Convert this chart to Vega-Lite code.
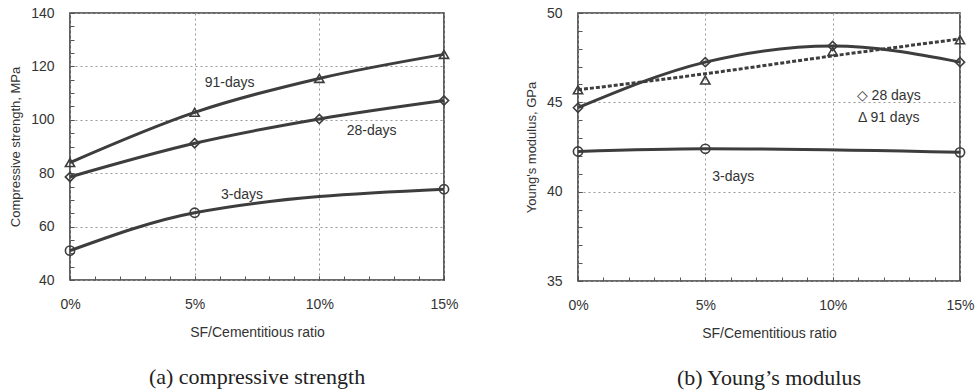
{
  "$schema": "https://vega.github.io/schema/vega-lite/v6.json",
  "background": "white",
  "padding": {"left": 8, "top": 5, "right": 5, "bottom": 0},
  "spacing": 65,
  "datasets": {
    "left": [
      {"series": "91-days", "ratio": 0, "value": 84.0},
      {"series": "91-days", "ratio": 5, "value": 102.8},
      {"series": "91-days", "ratio": 10, "value": 115.5},
      {"series": "91-days", "ratio": 15, "value": 124.5},
      {"series": "28-days", "ratio": 0, "value": 78.6},
      {"series": "28-days", "ratio": 5, "value": 91.2},
      {"series": "28-days", "ratio": 10, "value": 100.3},
      {"series": "28-days", "ratio": 15, "value": 107.2},
      {"series": "3-days", "ratio": 0, "value": 51.0},
      {"series": "3-days", "ratio": 5, "value": 65.2},
      {"series": "3-days", "ratio": 15, "value": 74.0}
    ],
    "leftLabels": [
      {"label": "91-days", "ratio": 6.4, "value": 113.8},
      {"label": "28-days", "ratio": 12.1, "value": 95.8},
      {"label": "3-days", "ratio": 6.9, "value": 71.8}
    ],
    "right": [
      {"series": "28-days", "ratio": 0, "value": 44.7},
      {"series": "28-days", "ratio": 5, "value": 47.25},
      {"series": "28-days", "ratio": 10, "value": 48.15},
      {"series": "28-days", "ratio": 15, "value": 47.25},
      {"series": "91-days", "ratio": 0, "value": 45.7},
      {"series": "91-days", "ratio": 5, "value": 46.25},
      {"series": "91-days", "ratio": 10, "value": 47.85},
      {"series": "91-days", "ratio": 15, "value": 48.5},
      {"series": "3-days", "ratio": 0, "value": 42.25},
      {"series": "3-days", "ratio": 5, "value": 42.4},
      {"series": "3-days", "ratio": 15, "value": 42.2}
    ],
    "rightTrend": [
      {"series": "91-days trend", "ratio": 0, "value": 45.7},
      {"series": "91-days trend", "ratio": 5, "value": 46.6},
      {"series": "91-days trend", "ratio": 10, "value": 47.6},
      {"series": "91-days trend", "ratio": 15, "value": 48.55}
    ],
    "rightLabels": [
      {"label": "◇ 28 days", "ratio": 12.2, "value": 45.37},
      {"label": "Δ 91 days", "ratio": 12.2, "value": 44.15},
      {"label": "3-days", "ratio": 6.1, "value": 40.83}
    ]
  },
  "hconcat": [
    {
      "width": 374,
      "height": 267,
      "title": {"text": "(a) compressive strength", "orient": "bottom", "font": "Liberation Serif", "fontSize": 22, "fontWeight": "normal", "color": "#222", "offset": 28},
      "resolve": {"axis": {"x": "independent", "y": "independent"}},
      "layer": [
        {
          "data": {"name": "left"},
          "mark": {"type": "line", "interpolate": "monotone", "color": "#3d3d3d", "strokeWidth": 3},
          "encoding": {
            "x": {"field": "ratio", "type": "quantitative", "scale": {"domain": [0, 15], "nice": false},
              "axis": {"title": "SF/Cementitious ratio", "orient": "bottom", "values": [0, 5, 10, 15],
                "labelExpr": "datum.value + '%'", "labelOverlap": false, "labelFlush": false,
                "grid": true, "labelPadding": 21, "titlePadding": 14}},
            "y": {"field": "value", "type": "quantitative", "scale": {"domain": [40, 140], "nice": false, "zero": false},
              "axis": {"title": "Compressive strength, MPa", "titleFontSize": 13, "orient": "left",
                "values": [40, 60, 80, 100, 120, 140], "labelOverlap": false,
                "grid": true, "labelPadding": 20, "titlePadding": 8}},
            "detail": {"field": "series"}
          }
        },
        {
          "data": {"name": "left"},
          "mark": {"type": "point", "filled": false, "color": "#3d3d3d", "strokeWidth": 1.6, "size": 85, "opacity": 1},
          "encoding": {
            "x": {"field": "ratio", "type": "quantitative",
              "axis": {"orient": "bottom", "title": null, "labels": false, "grid": false, "domain": false,
                "values": [0,1,2,3,4,5,6,7,8,9,10,11,12,13,14,15]}},
            "y": {"field": "value", "type": "quantitative",
              "axis": {"orient": "left", "title": null, "labels": false, "grid": false, "domain": false,
                "values": [40,45,50,55,60,65,70,75,80,85,90,95,100,105,110,115,120,125,130,135,140]}},
            "shape": {"field": "series", "type": "nominal", "legend": null,
              "scale": {"domain": ["3-days", "28-days", "91-days"], "range": ["circle", "diamond", "triangle-up"]}}
          }
        },
        {
          "data": {"name": "leftLabels"},
          "mark": {"type": "text", "font": "Liberation Sans", "fontSize": 14, "color": "#333", "align": "center", "baseline": "middle"},
          "encoding": {
            "x": {"field": "ratio", "type": "quantitative", "axis": null},
            "y": {"field": "value", "type": "quantitative", "axis": null},
            "text": {"field": "label"}
          }
        }
      ]
    },
    {
      "width": 382,
      "height": 268,
      "title": {"text": "(b) Young’s modulus", "orient": "bottom", "font": "Liberation Serif", "fontSize": 22, "fontWeight": "normal", "color": "#222", "offset": 28},
      "resolve": {"axis": {"x": "independent", "y": "independent"}},
      "layer": [
        {
          "data": {"name": "right"},
          "transform": [{"filter": "datum.series !== '91-days'"}],
          "mark": {"type": "line", "interpolate": "monotone", "color": "#3d3d3d", "strokeWidth": 3},
          "encoding": {
            "x": {"field": "ratio", "type": "quantitative", "scale": {"domain": [0, 15], "nice": false},
              "axis": {"title": "SF/Cementitious ratio", "orient": "bottom", "values": [0, 5, 10, 15],
                "labelExpr": "datum.value + '%'", "labelOverlap": false, "labelFlush": false,
                "grid": true, "labelPadding": 21, "titlePadding": 14}},
            "y": {"field": "value", "type": "quantitative", "scale": {"domain": [35, 50], "nice": false, "zero": false},
              "axis": {"title": "Young's modulus, GPa", "titleFontSize": 13, "orient": "left",
                "values": [35, 40, 45, 50], "labelOverlap": false,
                "grid": true, "labelPadding": 20, "titlePadding": 8}},
            "detail": {"field": "series"}
          }
        },
        {
          "data": {"name": "rightTrend"},
          "mark": {"type": "line", "interpolate": "monotone", "color": "#3d3d3d", "strokeWidth": 3, "strokeDash": [4, 2]},
          "encoding": {
            "x": {"field": "ratio", "type": "quantitative", "axis": null},
            "y": {"field": "value", "type": "quantitative", "axis": null}
          }
        },
        {
          "data": {"name": "right"},
          "mark": {"type": "point", "filled": false, "color": "#3d3d3d", "strokeWidth": 1.6, "size": 85, "opacity": 1},
          "encoding": {
            "x": {"field": "ratio", "type": "quantitative",
              "axis": {"orient": "bottom", "title": null, "labels": false, "grid": false, "domain": false,
                "values": [0,1,2,3,4,5,6,7,8,9,10,11,12,13,14,15]}},
            "y": {"field": "value", "type": "quantitative",
              "axis": {"orient": "left", "title": null, "labels": false, "grid": false, "domain": false,
                "values": [35,36,37,38,39,40,41,42,43,44,45,46,47,48,49,50]}},
            "shape": {"field": "series", "type": "nominal", "legend": null,
              "scale": {"domain": ["3-days", "28-days", "91-days"], "range": ["circle", "diamond", "triangle-up"]}}
          }
        },
        {
          "data": {"name": "rightLabels"},
          "mark": {"type": "text", "font": "Liberation Sans", "fontSize": 14, "color": "#333", "align": "center", "baseline": "middle"},
          "encoding": {
            "x": {"field": "ratio", "type": "quantitative", "axis": null},
            "y": {"field": "value", "type": "quantitative", "axis": null},
            "text": {"field": "label"}
          }
        }
      ]
    }
  ],
  "config": {
    "view": {"stroke": "#3a3a3a", "strokeWidth": 1.6},
    "axis": {
      "domain": false, "labelOverlap": false,
      "labelFont": "Liberation Sans", "titleFont": "Liberation Sans",
      "labelFontSize": 14, "titleFontSize": 14, "titleFontWeight": "normal",
      "labelColor": "#333", "titleColor": "#333",
      "tickColor": "#555", "tickSize": -4, "tickWidth": 1,
      "gridColor": "#999", "gridDash": [2, 3], "gridWidth": 1, "gridOpacity": 1
    }
  }
}
